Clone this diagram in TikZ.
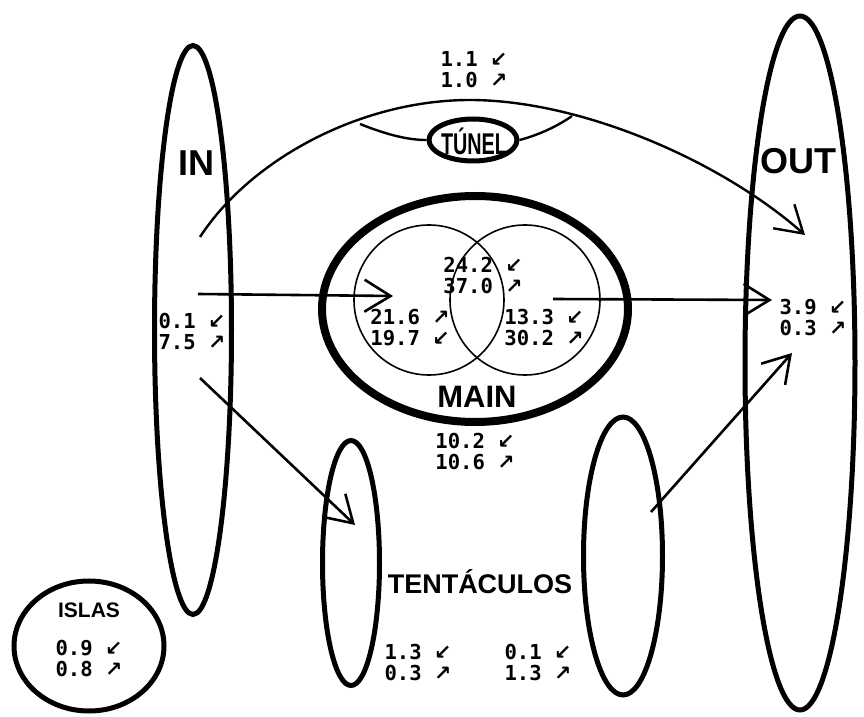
\documentclass[tikz,border=0pt]{standalone}
\usepackage{fontspec}
\usepackage{tikz}
\usetikzlibrary{arrows.meta,positioning,shapes.geometric}
\newfontfamily\numfont{DejaVu Sans Mono}
\newfontfamily\arrfont{DejaVu Sans}
\newfontfamily\titlefont{Liberation Sans}
\newfontfamily\tunelfont[FakeStretch=0.66]{Liberation Sans}
\newcommand\inw{{\arrfont ↙}}
\newcommand\outw{{\arrfont ↗}}

\begin{document}
\begin{tikzpicture}[
x=0.5pt,y=-0.5pt,
zone/.style={draw,ellipse,line width=2.5pt,inner sep=0pt},
venn/.style={draw,circle,line width=0.8pt,minimum size=75pt,inner sep=0pt},
title/.style={font=\titlefont\bfseries\fontsize{#1}{#1}\selectfont,inner sep=0pt},
num/.style={font=\numfont\bfseries\fontsize{10.3}{10.5}\selectfont,align=center,inner sep=0pt},
t/.style={-{Straight Barb[length=13pt,width=16pt]},line width=1.3pt}
]
\useasboundingbox (0,0) rectangle (864,717);

% regions
\node[zone,minimum width=38.5pt,minimum height=284.5pt] (in) at (193,330) {};
\node[zone,minimum width=55pt,minimum height=347pt] (out) at (800,363) {};
\node[zone,line width=4pt,minimum width=153pt,minimum height=113pt] (main) at (475,309) {};
\node[venn] (venl) at (429,300) {};
\node[venn] (venr) at (525,300) {};
\node[zone,minimum width=44pt,minimum height=21pt] (tunel) at (473,140) {};
\node[zone,minimum width=28.5pt,minimum height=122.5pt] (tentl) at (351,563) {};
\node[zone,minimum width=39.5pt,minimum height=139pt] (tentr) at (623,556) {};
\node[zone,minimum width=75pt,minimum height=65pt] (islas) at (89,646) {};

% titles
\node[title=18] (intxt) at (196,163) {IN};
\node[title=18] (outtxt) at (798,161) {OUT};
\node[title=15.5] (maintxt) at (477,397) {MAIN};
\node[title=13.5] (tenttxt) at (480,582) {TENTÁCULOS};
\node[title=10.5] (islastxt) at (89,610) {ISLAS};
\node[font=\tunelfont\bfseries\fontsize{15}{15}\selectfont,inner sep=0pt] (tuneltxt) at (474,141) {TÚNEL};

% flows
\node[num] (ntunel) at (474,70) {1.1 \inw\\1.0 \outw};
\node[num] (nlens) at (483,276) {24.2 \inw\\37.0 \outw};
\node[num] (nvenl) at (410,328) {21.6 \outw\\19.7 \inw};
\node[num] (nvenr) at (544,328) {13.3 \inw\\30.2 \outw};
\node[num] (nin) at (192,332) {0.1 \inw\\7.5 \outw};
\node[num] (nout) at (813,318) {3.9 \inw\\0.3 \outw};
\node[num] (nmain) at (475,452) {10.2 \inw\\10.6 \outw};
\node[num] (ntentl) at (418,663) {1.3 \inw\\0.3 \outw};
\node[num] (ntentr) at (538,663) {0.1 \inw\\1.3 \outw};
\node[num] (nislas) at (89,659) {0.9 \inw\\0.8 \outw};

% connector ends
\coordinate (arcS) at (200,237);
\coordinate (arcE) at (805,235);
\coordinate (jl) at (360,124);
\coordinate (jr) at (572,116);
\coordinate (inmain) at (198,294);
\coordinate (maintip) at (393,296);
\coordinate (mainout) at (553,299);
\coordinate (outtip) at (772,300);
\coordinate (intent) at (200,378);
\coordinate (tenttip) at (355,525);
\coordinate (tentout) at (651,512);
\coordinate (outtip2) at (792,353);

\draw[t,line width=1.2pt] (arcS) .. controls (250,160) and (360,100) .. (470,100)
  .. controls (580,100) and (720,160) .. (arcE);
\draw[line width=1.2pt] (jl) .. controls (390,136) and (410,140) .. (tunel.west);
\draw[line width=1.2pt] (tunel.east) .. controls (535,136) and (555,128) .. (jr);
\draw[t] (inmain) -- (maintip);
\draw[t] (mainout) -- (outtip);
\draw[t] (intent) -- (tenttip);
\draw[t] (tentout) -- (outtip2);
\end{tikzpicture}
\end{document}
